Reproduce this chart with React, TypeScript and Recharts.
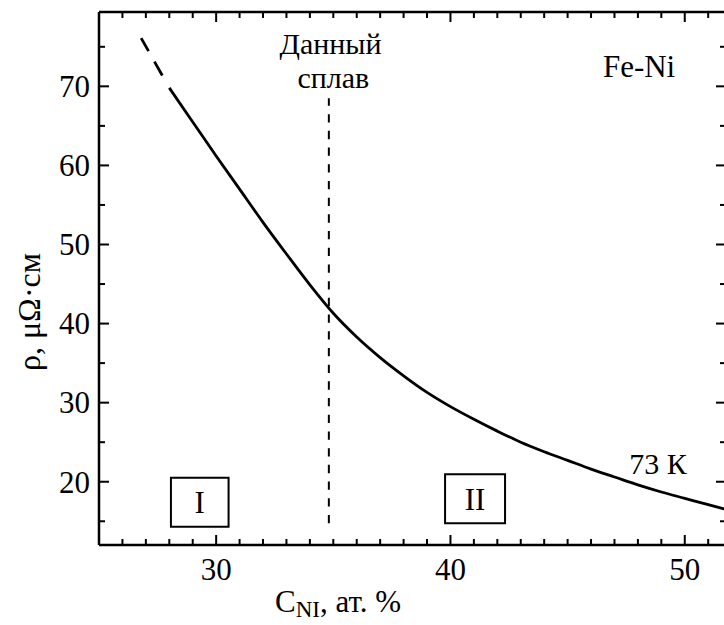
import React from 'react';
import {
  ComposedChart,
  Line,
  XAxis,
  YAxis,
  ReferenceLine,
  ReferenceArea,
  ReferenceDot,
} from 'recharts';

const FONT = 'Liberation Serif';
const TXT = { fontFamily: FONT };

// Main (measured) resistivity curve, Fe-Ni at 73 K
const curveX = [28.0, 29, 30, 31, 32, 33, 34, 35, 36, 37, 38, 39, 40, 41, 42, 43, 44, 45, 46, 47, 48, 49, 50, 51, 51.76];
const curveY = [69.8, 65.5, 61.2, 57.0, 52.8, 48.8, 44.9, 41.3, 38.3, 35.7, 33.4, 31.3, 29.5, 27.9, 26.4, 25.0, 23.8, 22.7, 21.6, 20.6, 19.6, 18.7, 17.9, 17.1, 16.5];

// Dashed extrapolated part
const extrapX = [26.8, 28.0];
const extrapY = [76.1, 69.8];

// Axis ticks
const xTicks = [25, 26, 27, 28, 29, 30, 31, 32, 33, 34, 35, 36, 37, 38, 39, 40, 41, 42, 43, 44, 45, 46, 47, 48, 49, 50, 51];
const yTicks = [15, 20, 25, 30, 35, 40, 45, 50, 55, 60, 65, 70, 75];
const xDomain = [25, 51.76];
const yDomain = [12, 79.4];

// Alloy marker (vertical dashed line)
const alloyX = 34.81;
const alloyYRange = [14.75, 68.5];

// Region boxes
const regionLabels = ['I', 'II'];
const regionX = [[28.07, 30.53], [39.77, 42.33]];
const regionY = [[14.31, 20.51], [14.74, 20.94]];

// Text annotations (data coordinates of text baseline centre)
const annotText = ['Данный', 'сплав', 'Fe-Ni', '73 К'];
const annotX = [34.88, 35.0, 48.05, 48.86];
const annotY = [74.05, 69.75, 71.22, 20.94];
const annotSize = [30, 30, 31, 30];

const curveData = curveX.map((x, i) => ({ x, y: curveY[i] }));
const extrapData = extrapX.map((x, i) => ({ x, y: extrapY[i] }));

const isMajorX = (v: number) => v % 10 === 0;
const isMajorY = (v: number) => v % 10 === 0;

const BottomTick = (props: any) => {
  const { x, y, payload } = props;
  const v = payload.value;
  const major = isMajorX(v);
  return (
    <g>
      <line x1={x} y1={y} x2={x} y2={y - (major ? 10 : 6)} stroke="#000" strokeWidth={2} />
      {major && (
        <text x={x} y={y + 35} textAnchor="middle" style={TXT} fontSize={31} fill="#000">
          {v}
        </text>
      )}
    </g>
  );
};

const TopTick = (props: any) => {
  const { x, y, payload } = props;
  const major = isMajorX(payload.value);
  return <line x1={x} y1={y} x2={x} y2={y + (major ? 10 : 6)} stroke="#000" strokeWidth={2} />;
};

const LeftTick = (props: any) => {
  const { x, y, payload } = props;
  const v = payload.value;
  const major = isMajorY(v);
  return (
    <g>
      <line x1={x} y1={y} x2={x + (major ? 10 : 6)} y2={y} stroke="#000" strokeWidth={2} />
      {major && (
        <text x={x - 9} y={y + 10.8} textAnchor="end" style={TXT} fontSize={31} fill="#000">
          {v}
        </text>
      )}
    </g>
  );
};

const RightTick = (props: any) => {
  const { x, y, payload } = props;
  const major = isMajorY(payload.value);
  return <line x1={x} y1={y} x2={x - (major ? 10 : 6)} y2={y} stroke="#000" strokeWidth={2} />;
};

const XLabel = (props: any) => {
  const vb = props.viewBox || {};
  const x = vb.x + 176;
  const y = vb.y + 67;
  return (
    <text x={x} y={y} style={TXT} fontSize={31} fill="#000" textAnchor="start">
      C
      <tspan fontSize={23} dy={5}>NI</tspan>
      <tspan fontSize={31} dy={-5}>, ат. %</tspan>
    </text>
  );
};

const YLabel = (props: any) => {
  const vb = props.viewBox || {};
  const x = vb.x + 1;
  const y = vb.y + 300;
  return (
    <text
      x={x}
      y={y}
      transform={`rotate(-90, ${x}, ${y})`}
      textAnchor="middle"
      style={TXT}
      fontSize={32}
      fill="#000"
    >
      ρ, μΩ·см
    </text>
  );
};

const AnnotLabel = (props: any) => {
  const { viewBox, text, size } = props;
  const cx = viewBox.x + viewBox.width / 2;
  const cy = viewBox.y + viewBox.height / 2;
  return (
    <text x={cx} y={cy} textAnchor="middle" style={TXT} fontSize={size} fill="#000">
      {text}
    </text>
  );
};

export default function App() {
  return (
    <div style={{ position: 'absolute', left: 0, top: 0, width: 724, height: 625, overflow: 'hidden', background: '#fff' }}>
      <ComposedChart
        width={740}
        height={625}
        margin={{ top: 11, right: 13, bottom: 20, left: 39 }}
      >
        <XAxis
          xAxisId={0}
          type="number"
          dataKey="x"
          domain={xDomain}
          ticks={xTicks}
          interval={0}
          allowDataOverflow
          height={60}
          tickSize={0}
          tickMargin={0}
          tickLine={false}
          tick={<BottomTick />}
          axisLine={{ stroke: '#000', strokeWidth: 2.5 }}
          label={<XLabel />}
        />
        <XAxis
          xAxisId="top"
          orientation="top"
          type="number"
          dataKey="x"
          domain={xDomain}
          ticks={xTicks}
          interval={0}
          allowDataOverflow
          height={1}
          tickSize={0}
          tickMargin={0}
          tickLine={false}
          tick={<TopTick />}
          axisLine={{ stroke: '#000', strokeWidth: 2.5 }}
        />
        <YAxis
          yAxisId={0}
          type="number"
          domain={yDomain}
          ticks={yTicks}
          interval={0}
          allowDataOverflow
          width={60}
          tickSize={0}
          tickMargin={0}
          tickLine={false}
          tick={<LeftTick />}
          axisLine={{ stroke: '#000', strokeWidth: 2.5 }}
          label={<YLabel />}
        />
        <YAxis
          yAxisId="right"
          orientation="right"
          type="number"
          domain={yDomain}
          ticks={yTicks}
          interval={0}
          allowDataOverflow
          width={1}
          tickSize={0}
          tickMargin={0}
          tickLine={false}
          tick={<RightTick />}
          axisLine={{ stroke: '#000', strokeWidth: 2.5 }}
        />

        {regionLabels.map((lab, i) => (
          <ReferenceArea
            key={lab}
            x1={regionX[i][0]}
            x2={regionX[i][1]}
            y1={regionY[i][0]}
            y2={regionY[i][1]}
            fill="#fff"
            fillOpacity={0}
            stroke="#000"
            strokeWidth={2}
            label={{ value: lab, position: 'center', style: TXT, fontSize: 31, fill: '#000' }}
          />
        ))}

        <ReferenceLine
          segment={[
            { x: alloyX, y: alloyYRange[0] },
            { x: alloyX, y: alloyYRange[1] },
          ]}
          stroke="#000"
          strokeWidth={2}
          strokeDasharray="8.3 8.4"
        />

        <Line
          data={extrapData}
          dataKey="y"
          type="linear"
          stroke="#000"
          strokeWidth={2.8}
          strokeDasharray="15 12 16 20"
          dot={false}
          activeDot={false}
          isAnimationActive={false}
        />
        <Line
          data={curveData}
          dataKey="y"
          type="monotone"
          stroke="#000"
          strokeWidth={2.8}
          dot={false}
          activeDot={false}
          isAnimationActive={false}
        />

        {annotText.map((t, i) => (
          <ReferenceDot
            key={t}
            x={annotX[i]}
            y={annotY[i]}
            r={1}
            fill="none"
            stroke="none"
            label={<AnnotLabel text={t} size={annotSize[i]} />}
          />
        ))}
      </ComposedChart>
    </div>
  );
}
